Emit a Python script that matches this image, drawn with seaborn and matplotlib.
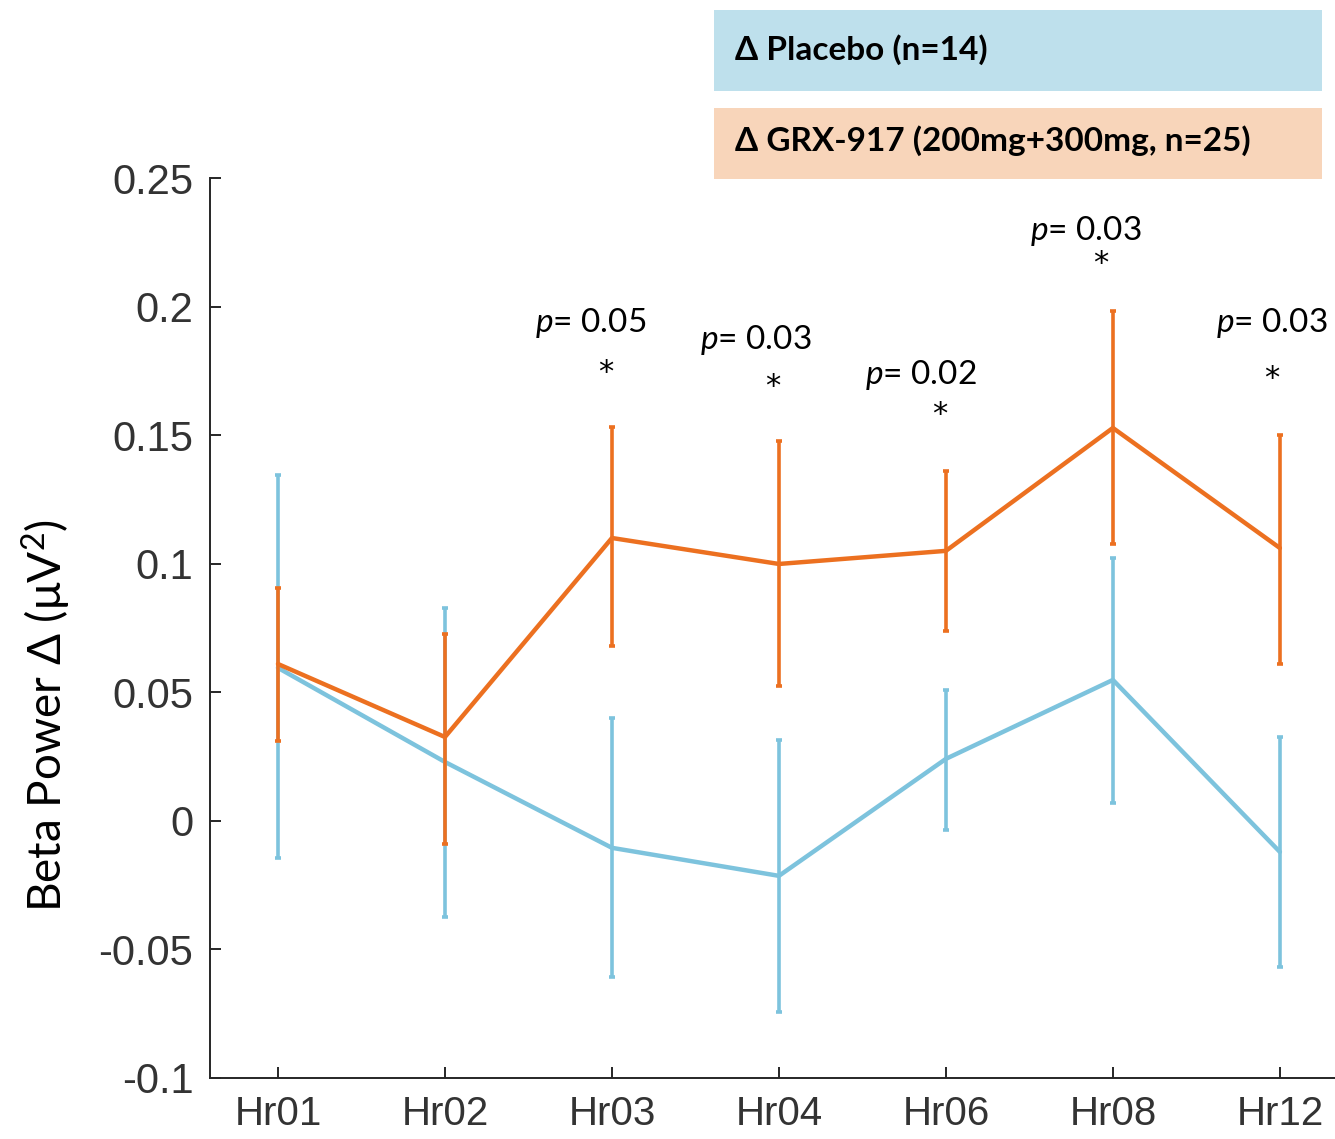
import numpy as np
import pandas as pd
import matplotlib
matplotlib.use("Agg")
import matplotlib.pyplot as plt
from matplotlib.patches import Rectangle
import seaborn as sns

# ---------------- data ----------------
hours = ["Hr01", "Hr02", "Hr03", "Hr04", "Hr06", "Hr08", "Hr12"]

placebo_mean = [0.0595, 0.0229, -0.0105, -0.0214, 0.0241, 0.0548, -0.0121]
placebo_upper = [0.1345, 0.0828, 0.0400, 0.0315, 0.0509, 0.1022, 0.0326]
placebo_lower = [-0.0144, -0.0373, -0.0607, -0.0743, -0.0035, 0.0070, -0.0568]

grx_mean = [0.0610, 0.0326, 0.1100, 0.0999, 0.1050, 0.1528, 0.1061]
grx_upper = [0.0906, 0.0727, 0.1532, 0.1477, 0.1361, 0.1983, 0.1501]
grx_lower = [0.0311, -0.0089, 0.0680, 0.0525, 0.0739, 0.1077, 0.0610]

p_hours = ["Hr03", "Hr04", "Hr06", "Hr08", "Hr12"]
p_values = ["0.05", "0.03", "0.02", "0.03", "0.03"]

yticks = [-0.1, -0.05, 0, 0.05, 0.1, 0.15, 0.2, 0.25]
ytick_labels = ["-0.1", "-0.05", "0", "0.05", "0.1", "0.15", "0.2", "0.25"]

label_placebo = "\u0394 Placebo (n=14)"
label_grx = "\u0394 GRX-917 (200mg+300mg, n=25)"
ylabel = "Beta Power \u0394 (\u03bcV$^2$)"

# ---------------- layout (annotation placement) ----------------
# (x offset, y) for p-value text and asterisk, in data units
p_text_pos = [(-0.13, 0.1936), (-0.14, 0.1870), (-0.15, 0.1734), (-0.16, 0.2294), (-0.05, 0.1936)]
star_pos = [(-0.04, 0.1745), (-0.04, 0.1690), (-0.04, 0.1580), (-0.07, 0.2168), (-0.05, 0.1720)]

blue = "#7DC3DD"
orange = "#EC7020"

sns.set_theme(style="ticks")
plt.rcParams["font.family"] = ["Liberation Sans", "DejaVu Sans"]
plt.rcParams["mathtext.fontset"] = "custom"
plt.rcParams["mathtext.rm"] = "Lato"
plt.rcParams["mathtext.it"] = "Lato:italic"

df = pd.DataFrame({
    "x": np.arange(len(hours)).tolist() * 2,
    "mean": placebo_mean + grx_mean,
    "group": ["placebo"] * len(hours) + ["grx"] * len(hours),
})

fig = plt.figure(figsize=(13.35, 11.39), dpi=100)
ax = fig.add_axes([0.1573, 0.0536, 0.8427, 0.7901])

xs = np.arange(len(hours))
# placebo error bars and line
ax.errorbar(xs, placebo_mean,
            yerr=[np.array(placebo_mean) - np.array(placebo_lower),
                  np.array(placebo_upper) - np.array(placebo_mean)],
            fmt="none", ecolor=blue, elinewidth=2.6, capsize=2, capthick=2.6, zorder=2)
sns.lineplot(data=df[df.group == "placebo"], x="x", y="mean", color=blue,
             linewidth=3.2, ax=ax, zorder=3, legend=False)
# GRX error bars and line
ax.errorbar(xs, grx_mean,
            yerr=[np.array(grx_mean) - np.array(grx_lower),
                  np.array(grx_upper) - np.array(grx_mean)],
            fmt="none", ecolor=orange, elinewidth=2.6, capsize=2, capthick=2.6, zorder=4)
sns.lineplot(data=df[df.group == "grx"], x="x", y="mean", color=orange,
             linewidth=3.2, ax=ax, zorder=5, legend=False)

ax.set_xlim(-0.407, 6.33)
ax.set_ylim(-0.1, 0.25)
ax.set_xticks(xs)
ax.set_xticklabels(hours)
ax.set_yticks(yticks)
ax.set_yticklabels(ytick_labels)
ax.tick_params(direction="in", length=8, width=1.4, colors="#262626",
               labelcolor="#333333")
ax.tick_params(axis="y", pad=12, labelsize=30)
ax.tick_params(axis="x", pad=12, labelsize=29)
for s in ["top", "right"]:
    ax.spines[s].set_visible(False)
for s in ["left", "bottom"]:
    ax.spines[s].set_color("#262626")
    ax.spines[s].set_linewidth(1.4)
ax.set_xlabel("")
ax.set_ylabel(ylabel, fontsize=33, family=["Lato", "DejaVu Sans"], color="black")
ax.yaxis.set_label_coords(-0.122, 0.403)

# p-value annotations
for h, pv, (dx, ty), (sx, sy) in zip(p_hours, p_values, p_text_pos, star_pos):
    i = hours.index(h)
    ax.text(i + dx, ty, "$p$= " + pv, fontsize=24, family=["Lato", "DejaVu Sans"],
            ha="center", va="center", color="black", clip_on=False)
    ax.text(i + sx, sy, "*", fontsize=22, family=["DejaVu Sans"],
            ha="center", va="center", color="black", clip_on=False)

# legend boxes
fig.patches.append(Rectangle((0.5348, 0.9201), 0.4555, 0.0711, transform=fig.transFigure,
                             facecolor="#BEE0EC", edgecolor="none", zorder=0))
fig.patches.append(Rectangle((0.5348, 0.8428), 0.4555, 0.0623, transform=fig.transFigure,
                             facecolor="#F8D5BA", edgecolor="none", zorder=0))
fig.text(0.5506, 0.9561, label_placebo, fontsize=24, fontweight="bold",
         family=["Lato", "DejaVu Sans"], va="center", ha="left", color="black")
fig.text(0.5506, 0.8762, label_grx, fontsize=24, fontweight="bold",
         family=["Lato", "DejaVu Sans"], va="center", ha="left", color="black")

fig.savefig("out.png", dpi=100)
